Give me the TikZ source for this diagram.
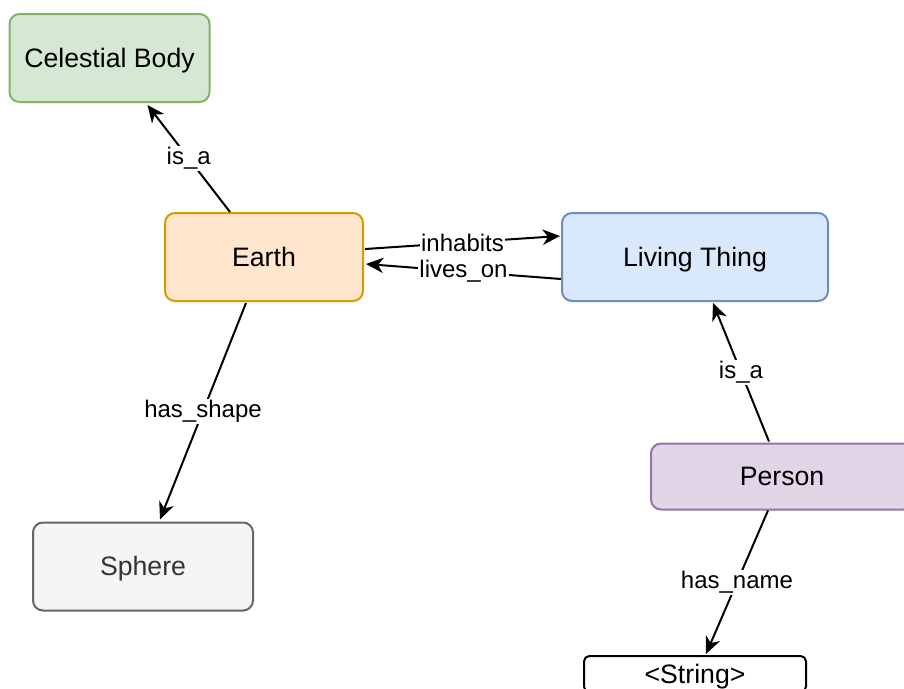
\documentclass[tikz,border=0pt]{standalone}
\usepackage{fontspec}
\setmainfont{Liberation Sans}
\usepackage{tikz}
\usetikzlibrary{positioning,arrows.meta,calc}

\definecolor{bodyFill}{HTML}{D5E8D4}
\definecolor{bodyLine}{HTML}{82B366}
\definecolor{earthFill}{HTML}{FFE6CC}
\definecolor{earthLine}{HTML}{D79B00}
\definecolor{lifeFill}{HTML}{DAE8FC}
\definecolor{lifeLine}{HTML}{6C8EBF}
\definecolor{personFill}{HTML}{E1D5E7}
\definecolor{personLine}{HTML}{9673A6}
\definecolor{shapeFill}{HTML}{F5F5F5}
\definecolor{shapeLine}{HTML}{666666}
\definecolor{shapeText}{HTML}{333333}

\begin{document}
\begin{tikzpicture}[
    x=0.75pt, y=-0.75pt,
    conceptNode/.style={rectangle, rounded corners=7.5pt, line width=1.5pt, align=center, font=\fontsize{20}{23}\selectfont, text=black, text height=14pt, text depth=0pt},
    bodyNode/.style={conceptNode, draw=bodyLine, fill=bodyFill, minimum width=150pt, minimum height=66pt},
    earthNode/.style={conceptNode, draw=earthLine, fill=earthFill, minimum width=148.5pt, minimum height=66pt},
    lifeNode/.style={conceptNode, draw=lifeLine, fill=lifeFill, minimum width=199.5pt, minimum height=66pt},
    personNode/.style={conceptNode, draw=personLine, fill=personFill, minimum width=196.5pt, minimum height=49.5pt},
    shapeNode/.style={conceptNode, draw=shapeLine, fill=shapeFill, text=shapeText, minimum width=165pt, minimum height=66pt},
    valueNode/.style={conceptNode, rounded corners=4pt, draw=black, fill=white, minimum width=166.5pt, minimum height=27pt},
    relArrow/.style={-{Stealth[length=13pt, width=11.5pt, inset=4pt]}, line width=1.5pt, draw=black},
    relLabel/.style={fill=white, inner sep=1pt, font=\fontsize{18}{21}\selectfont}
]
\clip (0,0) rectangle (904,689);

% ================= CONCEPTS =================
\node[bodyNode] (celestial) at (109.5,58) {Celestial Body};
\node[earthNode] (earth) at (264,257) {Earth};
\node[lifeNode] (living) at (695,257) {Living Thing};
\node[personNode] (person) at (782,476.5) {Person};
\node[shapeNode] (sphere) at (143,566.5) {Sphere};
\node[valueNode] (string) at (695,674) {<String>};

% ================= RELATIONS =================
\draw[relArrow] ($(earth.north)+(-34,0)$) -- node[relLabel] {is\_a} ($(celestial.south)+(38,2)$);
\draw[relArrow] ($(earth.east)+(1,-8)$) -- node[relLabel] {inhabits} ($(living.west)+(-1,-21)$);
\draw[relArrow] ($(living.west)+(0,22)$) -- node[relLabel] {lives\_on} ($(earth.east)+(2,7)$);
\draw[relArrow] ($(earth.south)+(-18,1)$) -- node[relLabel] {has\_shape} ($(sphere.north)+(17,-2)$);
\draw[relArrow] ($(person.north)+(-13,-1)$) -- node[relLabel] {is\_a} ($(living.south)+(18,1)$);
\draw[relArrow] ($(person.south)+(-14,0)$) -- node[relLabel] {has\_name} ($(string.north)+(11,-1)$);

\end{tikzpicture}
\end{document}
